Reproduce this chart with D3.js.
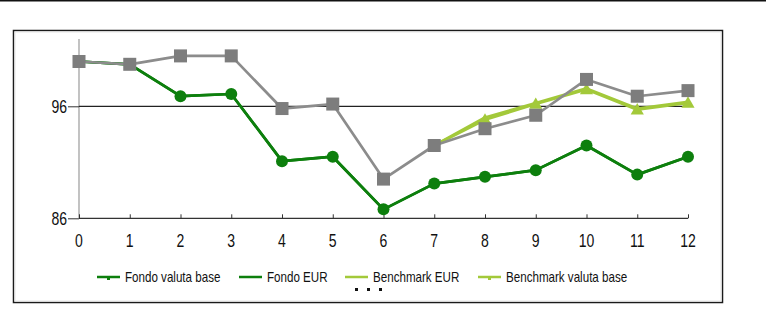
<!DOCTYPE html>
<html><head><meta charset="utf-8">
<script src="https://cdn.jsdelivr.net/npm/d3@7/dist/d3.min.js"></script>
<style>
html,body{margin:0;padding:0;background:#fff;}
svg{display:block;}
text{font-family:"Liberation Sans",Arial,sans-serif;}
</style></head>
<body><svg id="c" width="766" height="331"></svg>
<script>
const categories = [0,1,2,3,4,5,6,7,8,9,10,11,12];
const yTicks = [86, 96];
const greySeries = [100, 99.75, 100.5, 100.5, 95.8, 96.2, 89.5, 92.5, 94.0, 95.2, 98.4, 96.9, 97.4];
const fondoValutaBase = [100, 99.75, 96.9, 97.1, 91.1, 91.5, 86.8, 89.1, 89.7, 90.3, 92.5, 89.9, 91.5];
const fondoEUR = [100, 99.75, 96.9, 97.1, 91.1, 91.5, 86.8, 89.1, 89.7, 90.3, 92.5, 89.9, 91.5];
const benchmarkEUR = [null, null, null, null, null, null, null, 92.5, 95.0, 96.3, 97.6, 95.8, 96.4];
const benchmarkValutaBase = [null, null, null, null, null, null, null, 92.5, 94.8, 96.2, 97.5, 95.7, 96.3];
const legendLabels = ["Fondo valuta base", "Fondo EUR", "Benchmark EUR", "Benchmark valuta base"];

const svg = d3.select("#c");
const dark = "#0d7f0d", light = "#a3c93a", grey = "#8c8c8c";

svg.append("line").attr("x1",0).attr("x2",766).attr("y1",0.75).attr("y2",0.75).attr("stroke","#111").attr("stroke-width",1.5);
svg.append("rect").attr("x",13.5).attr("y",30.5).attr("width",709).attr("height",272).attr("fill","#fff").attr("stroke","#1a1a1a").attr("stroke-width",1.5);
svg.append("rect").attr("x",15).attr("y",32).attr("width",706).attr("height",269).attr("fill","none").attr("stroke","#e6e6e6").attr("stroke-width",1);

const x = d3.scaleLinear().domain([0,12]).range([79,688]);
const y = d3.scaleLinear().domain([86,102]).range([218.3,39.1]);

svg.append("line").attr("x1",x(0)).attr("x2",x(0)).attr("y1",y(102)).attr("y2",y(86)).attr("stroke","#9a9a9a").attr("stroke-width",1.2);
svg.append("line").attr("x1",x(0)).attr("x2",x(12)).attr("y1",y(96)).attr("y2",y(96)).attr("stroke","#222").attr("stroke-width",1.2);

const xAxis = d3.axisTop(x).tickValues(categories).tickSize(4).tickFormat("");
const gx = svg.append("g").attr("transform",`translate(0,${y(86)})`).call(xAxis);
gx.select(".domain").attr("stroke","#333").attr("stroke-width",1.3).attr("d",`M${x(0)},0H${x(12)}`);
gx.selectAll(".tick line").attr("stroke","#333");

function narrowText(g, px, py, str, size, anchor, sx){
  g.append("text").attr("transform",`translate(${px},${py}) scale(${sx},1)`)
   .attr("text-anchor",anchor).attr("font-size",size).attr("fill","#111").text(str);
}
const xl = svg.append("g");
categories.forEach(c=>narrowText(xl, x(c), 246.5, c, 18, "middle", 0.78));

const yAxis = d3.axisLeft(y).tickValues(yTicks).tickSize(11).tickFormat("");
const gy = svg.append("g").attr("transform",`translate(${x(0)},0)`).call(yAxis);
gy.select(".domain").remove();
gy.selectAll(".tick line").attr("stroke","#333");
const yl = svg.append("g");
yTicks.forEach(v=>narrowText(yl, 67, y(v)+6.5, v, 18, "end", 0.78));

function path(data,color,w){
  svg.append("path").datum(data).attr("d",d3.line().defined(d=>d!=null).x((d,i)=>x(categories[i])).y(d=>y(d)))
   .attr("fill","none").attr("stroke",color).attr("stroke-width",w).attr("stroke-linejoin","round");
}
path(fondoEUR,dark,2.7);
path(fondoValutaBase,dark,2.7);
svg.append("g").selectAll("circle").data(fondoValutaBase.map((v,i)=>({i,v})).filter(d=>d.i>=2))
  .join("circle").attr("cx",d=>x(categories[d.i])).attr("cy",d=>y(d.v)).attr("r",6).attr("fill",dark);
path(benchmarkEUR,light,2.7);
path(benchmarkValutaBase,light,2.7);
const tri = d3.symbol().type(d3.symbolTriangle).size(75);
svg.append("g").selectAll("path").data(benchmarkValutaBase.map((v,i)=>({i,v})).filter(d=>d.v!=null && d.i>7))
  .join("path").attr("d",tri).attr("transform",d=>`translate(${x(categories[d.i])},${y(d.v)+1})`).attr("fill",light);
path(greySeries,grey,2.7);
svg.append("g").selectAll("rect").data(greySeries.map((v,i)=>({i,v})))
  .join("rect").attr("x",d=>x(categories[d.i])-6.5).attr("y",d=>y(d.v)-6.5).attr("width",13).attr("height",13).attr("fill","#7d7d7d");

const legX = [97, 239, 345, 478];
const legColors = [dark, dark, light, light];
const lg = svg.append("g");
legendLabels.forEach((t,k)=>{
  lg.append("line").attr("x1",legX[k]).attr("x2",legX[k]+23).attr("y1",277).attr("y2",277).attr("stroke",legColors[k]).attr("stroke-width",2.5);
  if(k===0||k===3){
    lg.append("rect").attr("x",legX[k]+10).attr("y",277).attr("width",3).attr("height",3).attr("fill",legColors[k]);
  }
  narrowText(lg, legX[k]+28, 282, t, 14.5, "start", 0.8);
});
lg.selectAll("rect.dot").data([0,1,2]).join("rect").attr("class","dot")
  .attr("x",d=>355+d*12).attr("y",288).attr("width",3).attr("height",3).attr("fill","#111");
</script></body></html>
